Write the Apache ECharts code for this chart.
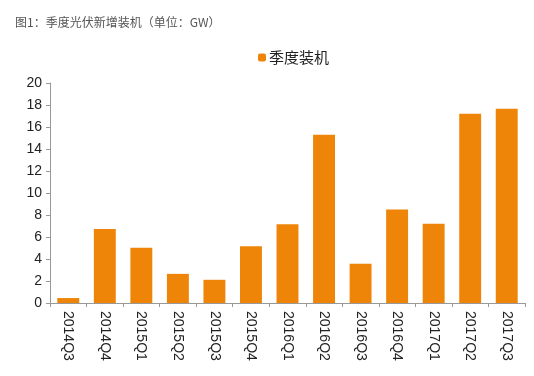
<!DOCTYPE html>
<html>
<head>
<meta charset="utf-8">
<script src="https://cdn.jsdelivr.net/npm/echarts@6/dist/echarts.min.js"></script>
<style>
  html, body { margin: 0; padding: 0; background: #fff; }
  #chart { width: 534px; height: 376px; }
</style>
</head>
<body>
<div id="chart"></div>
<script>
// 季度光伏新增装机（GW）
const quarters = ['2014Q3', '2014Q4', '2015Q1', '2015Q2', '2015Q3', '2015Q4', '2016Q1',
  '2016Q2', '2016Q3', '2016Q4', '2017Q1', '2017Q2', '2017Q3']
const installs = [0.45, 6.73, 5.03, 2.65, 2.11, 5.15, 7.15, 15.3, 3.57, 8.5, 7.2, 17.2, 17.66]
const yTicks = { min: 0, max: 20, interval: 2 }

const chart = echarts.init(document.getElementById('chart'))
chart.setOption({
  animation: false,
  title: {
    text: '图1：季度光伏新增装机（单位：GW）',
    left: 10,
    top: 11,
    textStyle: {
      fontFamily: 'Noto Sans CJK SC',
      fontSize: 12,
      fontWeight: 'normal',
      color: '#555'
    }
  },
  legend: {
    top: 45,
    left: 253,
    itemWidth: 8,
    itemHeight: 8,
    itemGap: 6,
    data: ['季度装机'],
    textStyle: {
      fontFamily: 'Noto Sans CJK SC',
      fontSize: 15,
      color: '#222',
      padding: [0, 0, 0, -2]
    }
  },
  grid: {
    left: 50,
    right: 9,
    top: 83,
    bottom: 73
  },
  xAxis: {
    type: 'category',
    data: quarters,
    axisLine: { lineStyle: { color: '#999' } },
    axisTick: { show: true, length: 4, lineStyle: { color: '#999' } },
    axisLabel: {
      rotate: -90,
      interval: 0,
      margin: 8,
      fontFamily: 'Liberation Sans',
      fontSize: 14,
      color: '#222'
    }
  },
  yAxis: {
    type: 'value',
    min: yTicks.min,
    max: yTicks.max,
    interval: yTicks.interval,
    splitLine: { show: false },
    axisLine: { show: true, lineStyle: { color: '#999' } },
    axisTick: { show: true, length: 4, lineStyle: { color: '#999' } },
    axisLabel: {
      margin: 8,
      fontFamily: 'Liberation Sans',
      fontSize: 14,
      color: '#222'
    }
  },
  series: [
    {
      name: '季度装机',
      type: 'bar',
      data: installs,
      barWidth: '60%',
      itemStyle: { color: '#EE8508' }
    }
  ]
})
</script>
</body>
</html>
